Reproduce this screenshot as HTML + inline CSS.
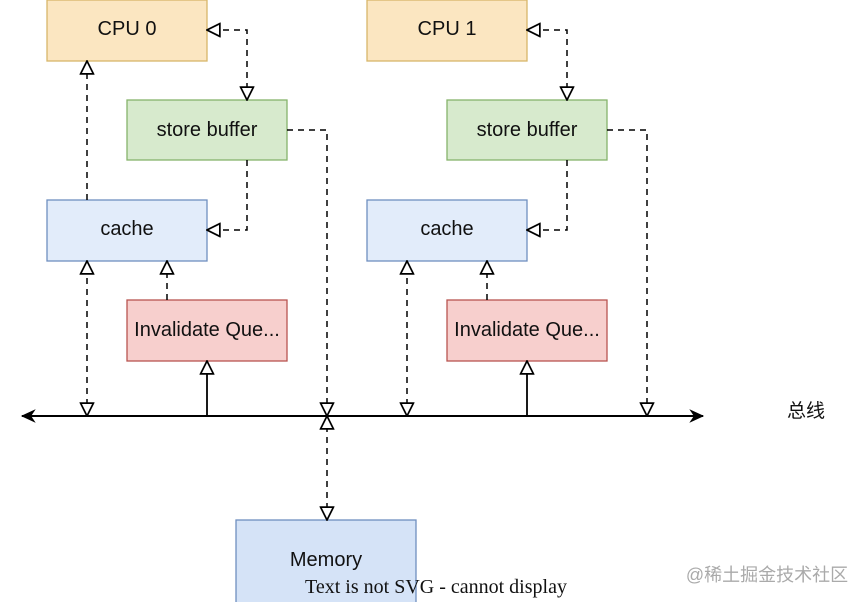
<!DOCTYPE html>
<html><head><meta charset="utf-8"><style>
html,body{margin:0;padding:0;background:#fff;width:868px;height:602px;overflow:hidden}
svg text{font-family:"Liberation Sans","Noto Sans CJK SC",sans-serif;fill:#111}
</style></head><body>
<svg width="868" height="602" viewBox="0 0 868 602" xmlns="http://www.w3.org/2000/svg">
<defs>
<marker id="o" viewBox="0 0 14 14" refX="13" refY="7" markerWidth="15" markerHeight="15" markerUnits="userSpaceOnUse" orient="auto-start-reverse">
<path d="M1,1 L13,7 L1,13 Z" fill="#fff" stroke="#000" stroke-width="1.6"/>
</marker>
<marker id="s" viewBox="0 0 14 14" refX="12" refY="7" markerWidth="16" markerHeight="16" markerUnits="userSpaceOnUse" orient="auto-start-reverse">
<path d="M0,1 L13,7 L0,13 L4,7 Z" fill="#000"/>
</marker>
</defs>
<g stroke-width="1.3">
<rect x="47" y="0" width="160" height="61" fill="#fbe6c1" stroke="#d7b66a"/>
<rect x="127" y="100" width="160" height="60" fill="#d7eacd" stroke="#86b36b"/>
<rect x="47" y="200" width="160" height="61" fill="#e2ecfa" stroke="#6f8fbf"/>
<rect x="127" y="300" width="160" height="61" fill="#f7cfcd" stroke="#b85450"/>
<rect x="367" y="0" width="160" height="61" fill="#fbe6c1" stroke="#d7b66a"/>
<rect x="447" y="100" width="160" height="60" fill="#d7eacd" stroke="#86b36b"/>
<rect x="367" y="200" width="160" height="61" fill="#e2ecfa" stroke="#6f8fbf"/>
<rect x="447" y="300" width="160" height="61" fill="#f7cfcd" stroke="#b85450"/>
<rect x="236" y="520" width="180" height="90" fill="#d5e3f7" stroke="#6f8fbf"/>
</g>
<g font-size="20" text-anchor="middle">
<text x="127" y="35">CPU 0</text>
<text x="207" y="136">store buffer</text>
<text x="127" y="235">cache</text>
<text x="207" y="336">Invalidate Que...</text>
<text x="447" y="35">CPU 1</text>
<text x="527" y="136">store buffer</text>
<text x="447" y="235">cache</text>
<text x="527" y="336">Invalidate Que...</text>
<text x="326" y="566">Memory</text>
</g>
<text x="436" y="593" text-anchor="middle" style="font-family:'Liberation Serif',serif" font-size="20">Text is not SVG - cannot display</text>
<text x="806" y="417" text-anchor="middle" font-size="19">总线</text>
<text x="767" y="581" text-anchor="middle" font-size="18" style="fill:#aaa">@稀土掘金技术社区</text>
<line x1="22" y1="416" x2="703" y2="416" stroke="#000" stroke-width="2" marker-end="url(#s)" marker-start="url(#s)"/>
<g fill="none" stroke="#000" stroke-width="1.5" stroke-dasharray="6,5">
<polyline points="247,100 247,30 207,30" marker-end="url(#o)" marker-start="url(#o)"/>
<polyline points="247,160 247,230 207,230" marker-end="url(#o)"/>
<line x1="87" y1="200" x2="87" y2="61" marker-end="url(#o)"/>
<line x1="87" y1="416" x2="87" y2="261" marker-end="url(#o)" marker-start="url(#o)"/>
<line x1="167" y1="300" x2="167" y2="261" marker-end="url(#o)"/>
<polyline points="287,130 327,130 327,416" marker-end="url(#o)"/>
<polyline points="567,100 567,30 527,30" marker-end="url(#o)" marker-start="url(#o)"/>
<polyline points="567,160 567,230 527,230" marker-end="url(#o)"/>
<line x1="407" y1="416" x2="407" y2="261" marker-end="url(#o)" marker-start="url(#o)"/>
<line x1="487" y1="300" x2="487" y2="261" marker-end="url(#o)"/>
<polyline points="607,130 647,130 647,416" marker-end="url(#o)"/>
<line x1="327" y1="520" x2="327" y2="416" marker-end="url(#o)" marker-start="url(#o)"/>
</g>
<g fill="none" stroke="#000" stroke-width="1.8">
<line x1="207" y1="416" x2="207" y2="361" marker-end="url(#o)"/>
<line x1="527" y1="416" x2="527" y2="361" marker-end="url(#o)"/>
</g>
</svg>
</body></html>
